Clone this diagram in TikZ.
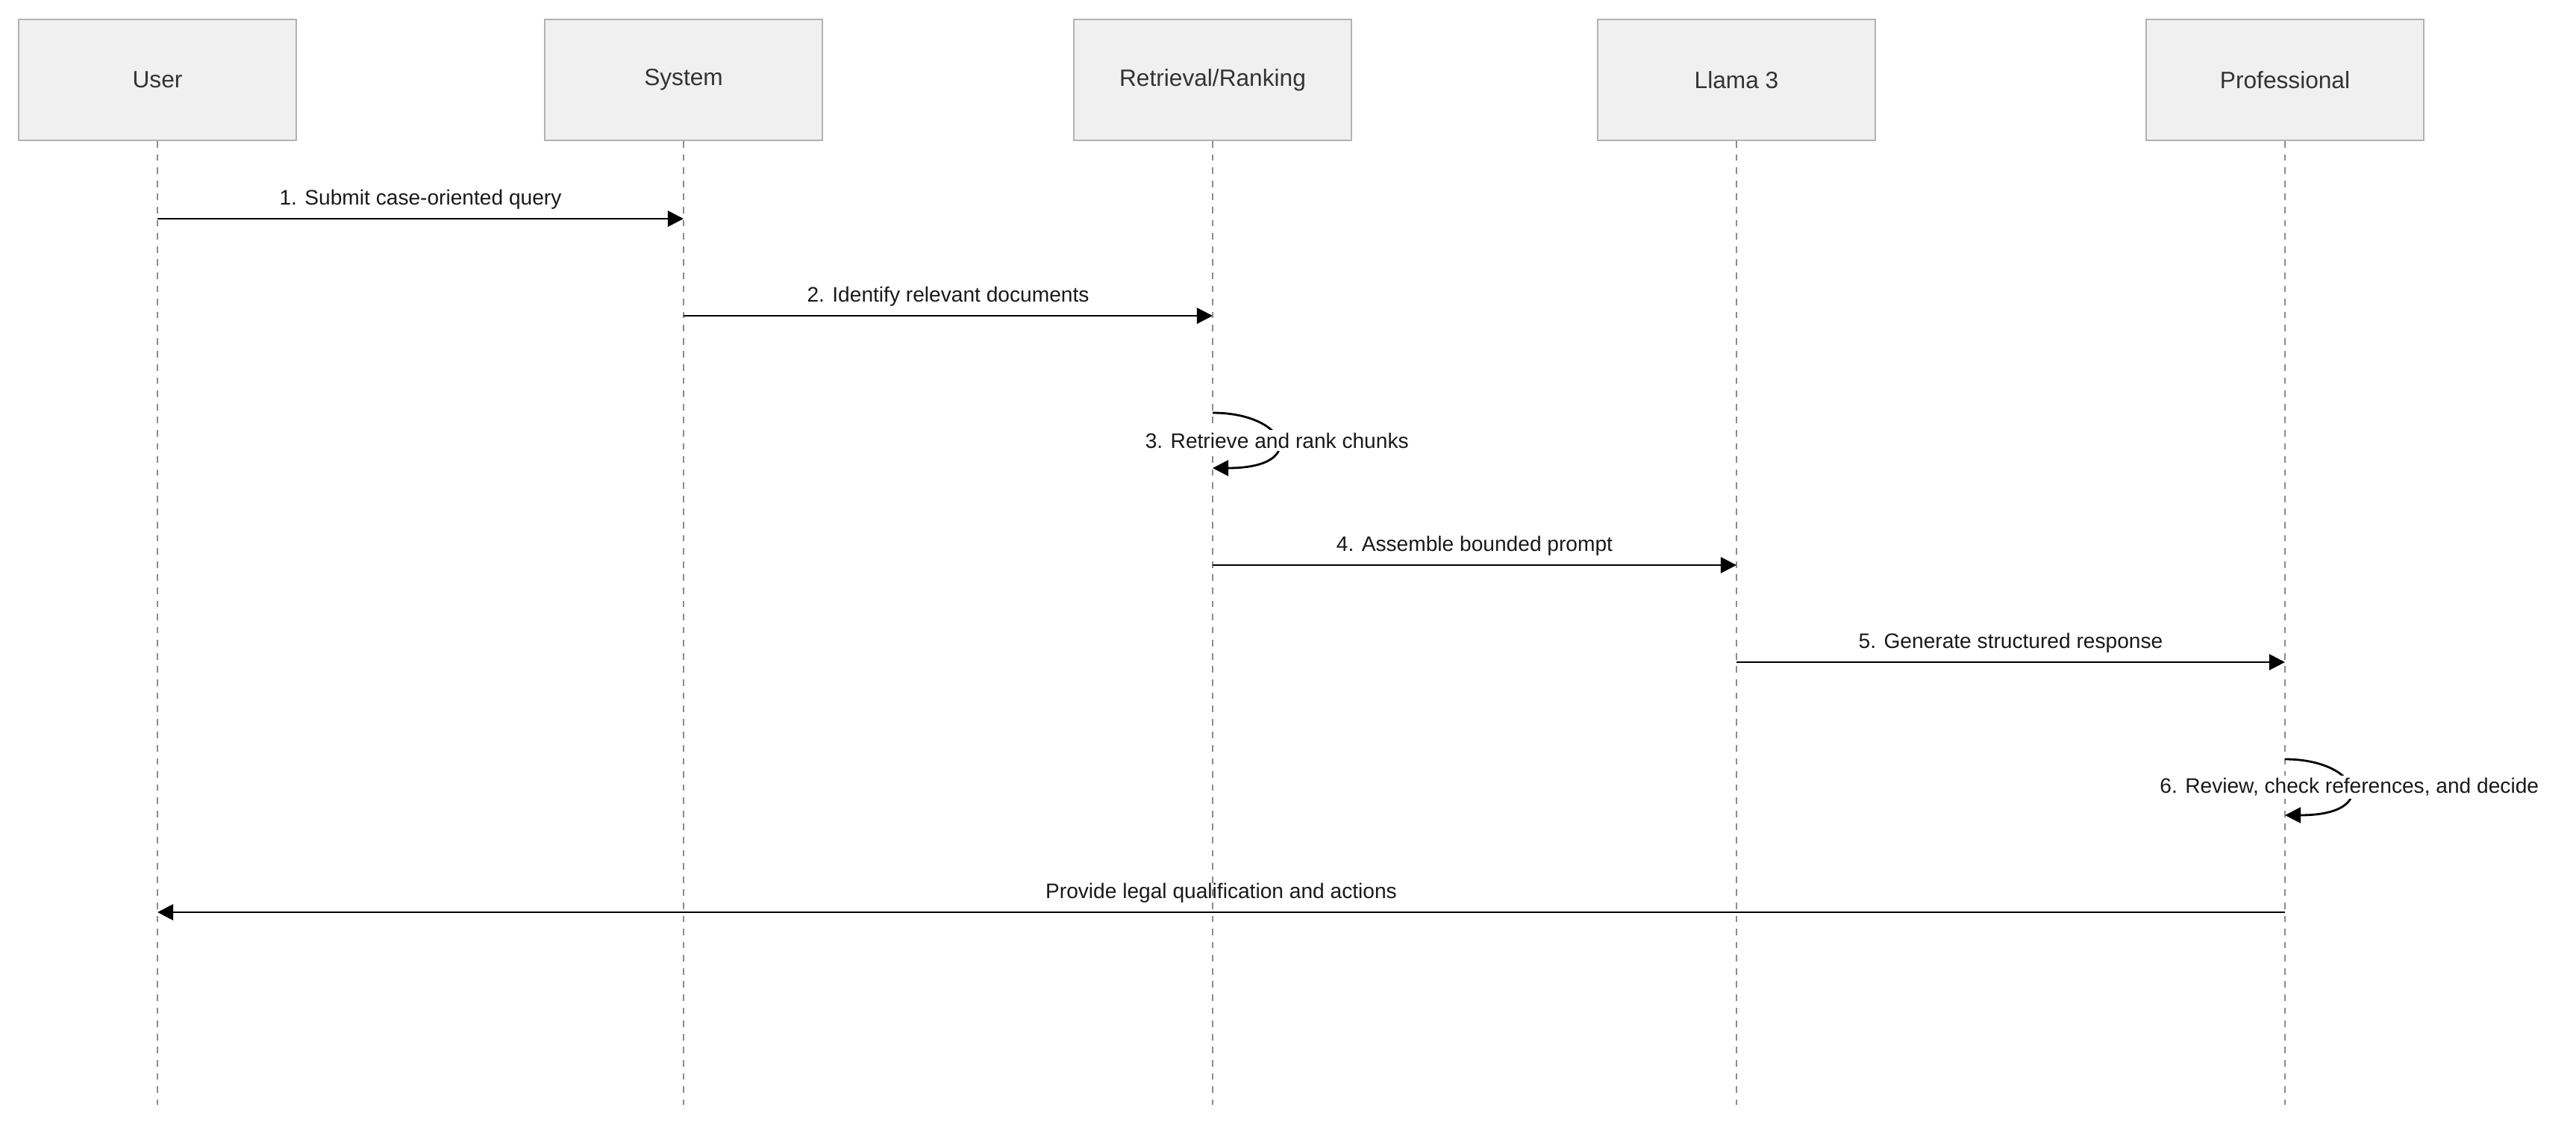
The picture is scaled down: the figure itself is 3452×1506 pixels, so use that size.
\documentclass[tikz,border=0pt]{standalone}
\usepackage{fontspec}
\setmainfont{Liberation Sans}
\usetikzlibrary{arrows.meta}
\begin{document}
\begin{tikzpicture}[x=0.01cm,y=-0.01cm,
  actor/.style={draw=black!30,fill=black!6,line width=0.6pt,minimum width=3.72cm,minimum height=1.62cm,font=\fontsize{9}{11}\selectfont,text=black!80},
  life/.style={draw=black!45,dashed,dash pattern=on 2.5pt off 2.5pt,line width=0.4pt},
  msg/.style={draw=black,line width=0.8pt,-{Triangle[length=6pt,width=6pt]}},
  lbl/.style={font=\fontsize{8}{10}\selectfont,text=black!90}]
\useasboundingbox (0,0) rectangle (3452,1506);
\foreach \n/\x/\t in {u/211/User,s/916/System,r/1625/Retrieval\slash Ranking,l/2327/Llama 3,p/3062/Professional}{
  \node[actor] (\n) at (\x,107) {\t};
  \coordinate (\n e) at (\x,1480);
  \draw[life] (\n.south) -- (\n e);
  \coordinate (\n1) at (\x,293);
  \coordinate (\n2) at (\x,423);
  \coordinate (\n3a) at (\x,553);
  \coordinate (\n3b) at (\x,627);
  \coordinate (\n4) at (\x,757);
  \coordinate (\n5) at (\x,887);
  \coordinate (\n6a) at (\x,1017);
  \coordinate (\n6b) at (\x,1092);
  \coordinate (\n7) at (\x,1222);
}
\draw[msg] (u1) -- node[lbl,above]{1. Submit case-oriented query} (s1);
\draw[msg] (s2) -- node[lbl,above]{2. Identify relevant documents} (r2);
\draw[msg] (r3a) .. controls +(100,0) and +(130,0) .. node[lbl,fill=white,inner sep=1pt,pos=0.5]{3. Retrieve and rank chunks} (r3b);
\draw[msg] (r4) -- node[lbl,above]{4. Assemble bounded prompt} (l4);
\draw[msg] (l5) -- node[lbl,above]{5. Generate structured response} (p5);
\draw[msg] (p6a) .. controls +(100,0) and +(130,0) .. node[lbl,fill=white,inner sep=1pt,pos=0.5]{6. Review, check references, and decide} (p6b);
\draw[msg] (p7) -- node[lbl,above]{Provide legal qualification and actions} (u7);
\end{tikzpicture}
\end{document}
